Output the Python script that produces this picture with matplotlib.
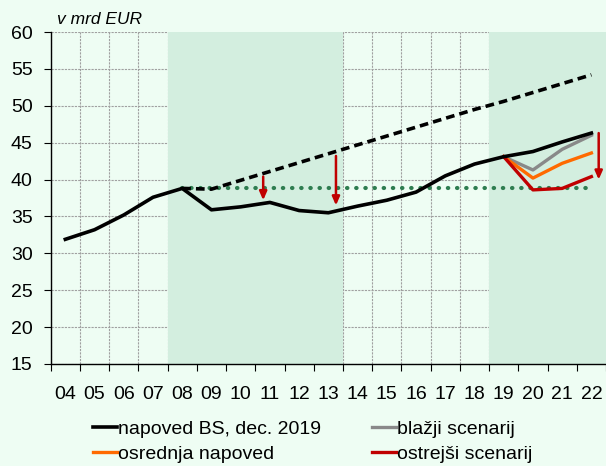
import matplotlib
matplotlib.use("Agg")
import matplotlib.pyplot as plt
import numpy as np
from matplotlib.lines import Line2D

plt.rcParams['font.family'] = ['Liberation Sans', 'DejaVu Sans']

years = ['04', '05', '06', '07', '08', '09', '10', '11', '12', '13',
         '14', '15', '16', '17', '18', '19', '20', '21', '22']
napoved = [31.9, 33.2, 35.2, 37.6, 38.8, 35.9, 36.3, 36.9, 35.8, 35.5,
           36.4, 37.2, 38.3, 40.5, 42.1, 43.1, 43.8, 45.1, 46.3]
trend_years = ['08', '09', '10', '11', '12', '13', '14', '15', '16', '17',
               '18', '19', '20', '21', '22']
trend = [38.8, 38.7, 39.9, 41.1, 42.3, 43.5, 44.7, 45.9, 47.1, 48.3,
         49.5, 50.6, 51.8, 53.0, 54.2]
level_2008 = 38.8
scen_years = ['19', '20', '21', '22']
blazji = [43.1, 41.3, 44.1, 46.0]
osrednja = [43.1, 40.2, 42.2, 43.6]
ostrejsi = [43.1, 38.6, 38.8, 40.4]
shade_periods = [('08', '13'), ('19', '22')]
arrow_pos = [6.77, 9.26, 18.25]
arrow_top = [40.4, 43.2, 46.3]
arrow_bottom = [37.2, 36.5, 40.0]

labels = ['napoved BS, dec. 2019', 'osrednja napoved', 'blažji scenarij', 'ostrejši scenarij']

bg = '#EEFDF3'
shade = '#D3EEDF'

fig = plt.figure(figsize=(6.06, 4.66), dpi=100, facecolor=bg)
ax = fig.add_axes([0.0837, 0.2189, 1.0 - 0.0837, 0.9313 - 0.2189])
ax.set_facecolor(bg)

idx = {y: i for i, y in enumerate(years)}
x = np.arange(len(years))

# grid (below shading)
ax.set_axisbelow(True)
ax.set_xticks(np.arange(-0.5, len(years) + 0.5, 1), minor=True)
ax.grid(True, which='minor', axis='x', color='#A0A0A0', linestyle=(0, (2, 1)), linewidth=0.8)
ax.grid(True, which='major', axis='y', color='#A0A0A0', linestyle=(0, (2, 1)), linewidth=0.8)

for a, b in shade_periods:
    ax.axvspan(idx[a] - 0.5, idx[b] + 0.5, color=shade, zorder=1, lw=0)

# lines
ax.hlines(level_2008, idx['08'], idx['22'], colors='#2E7D50', linestyles=(0, (0.1, 2.1)),
          linewidth=3.0, capstyle='round', zorder=2)
ax.plot([idx[y] for y in trend_years], trend, color='black', lw=2.6,
        dashes=(2.4, 1.4), zorder=3)
ax.plot([idx[y] for y in scen_years], blazji, color='#898989', lw=2.4, zorder=3)
ax.plot([idx[y] for y in scen_years], osrednja, color='#FF6A00', lw=2.4, zorder=3)
ax.plot([idx[y] for y in scen_years], ostrejsi, color='#C00000', lw=2.4, zorder=3)
ax.plot(x, napoved, color='black', lw=2.6, zorder=4)

for xa, t, b in zip(arrow_pos, arrow_top, arrow_bottom):
    ax.annotate('', xy=(xa, b), xytext=(xa, t),
                arrowprops=dict(arrowstyle='-|>,head_length=0.5,head_width=0.22',
                                color='#C00000', lw=1.8, shrinkA=0, shrinkB=0),
                zorder=5)

ax.set_xlim(-0.5, len(years) - 0.5)
ax.set_ylim(15, 60)
ax.set_yticks(np.arange(15, 61, 5))
ax.set_xticks(x)
ax.set_xticklabels(years)
ax.tick_params(axis='x', which='major', length=0, pad=16, labelsize=14)
ax.tick_params(axis='x', which='minor', length=5, width=0.8, color='black')
ax.tick_params(axis='y', which='major', length=5, width=0.8, pad=8, labelsize=14)

for s in ['top', 'right']:
    ax.spines[s].set_visible(False)
for s in ['left', 'bottom']:
    ax.spines[s].set_color('black')
    ax.spines[s].set_linewidth(1.0)
    ax.spines[s].set_zorder(6)

fig.text(57 / 606, 1 - 20 / 466, 'v mrd EUR', style='italic', fontsize=12.5,
         ha='left', va='center')

handles = [Line2D([], [], color='black', lw=2.6),
           Line2D([], [], color='#FF6A00', lw=2.4),
           Line2D([], [], color='#898989', lw=2.4),
           Line2D([], [], color='#C00000', lw=2.4)]
fig.legend(handles, labels, ncol=2, loc='upper left',
           bbox_to_anchor=(93 / 606, 1 - 420 / 466), frameon=False,
           fontsize=14, handlelength=1.25, handletextpad=0.05,
           columnspacing=2.6, labelspacing=0.4, borderpad=0, borderaxespad=0)

fig.savefig('out.png', dpi=100, facecolor=bg)
